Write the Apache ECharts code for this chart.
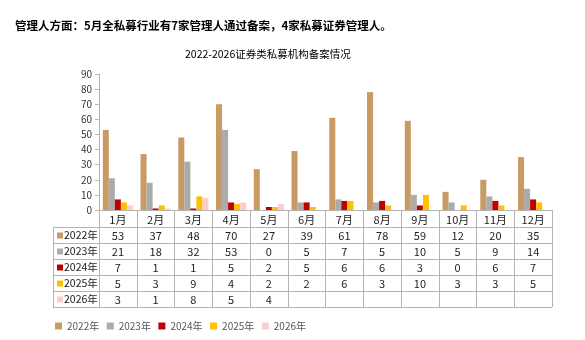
<!DOCTYPE html>
<html>
<head>
<meta charset="utf-8">
<script src="https://cdn.jsdelivr.net/npm/echarts@6/dist/echarts.min.js"></script>
<style>
html, body { margin: 0; padding: 0; background: #fff; }
#main { width: 585px; height: 340px; }
</style>
</head>
<body>
<div id="main"></div>
<script>
var months = ['1月', '2月', '3月', '4月', '5月', '6月', '7月', '8月', '9月', '10月', '11月', '12月'];
var yearNames = ['2022年', '2023年', '2024年', '2025年', '2026年'];
var v2022 = [53, 37, 48, 70, 27, 39, 61, 78, 59, 12, 20, 35];
var v2023 = [21, 18, 32, 53, 0, 5, 7, 5, 10, 5, 9, 14];
var v2024 = [7, 1, 1, 5, 2, 5, 6, 6, 3, 0, 6, 7];
var v2025 = [5, 3, 9, 4, 2, 2, 6, 3, 10, 3, 3, 5];
var v2026 = [3, 1, 8, 5, 4, null, null, null, null, null, null, null];
var yearValues = [v2022, v2023, v2024, v2025, v2026];
var yearColors = ['#C89B64', '#ABABAB', '#C00000', '#FFC000', '#FFCCCC'];

var FONT = '"Noto Sans CJK SC", sans-serif';
var LINE = '#b4b4b4';

// table geometry (px)
var gridL = 99, gridR = 552, axisY = 210;
var tableL = 53, rowTop = 227.5, rowH = 16;

var myChart = echarts.init(document.getElementById('main'));

var series = yearNames.map(function (name, i) {
    return {
        name: name,
        type: 'bar',
        data: yearValues[i],
        barGap: '0%',
        barCategoryGap: '20%',
        itemStyle: { color: yearColors[i] }
    };
});

var xAxes = [{
    type: 'category',
    data: months,
    position: 'bottom',
    axisLine: { lineStyle: { color: LINE } },
    axisTick: { show: true, interval: 0, length: 97, lineStyle: { color: LINE } },
    axisLabel: { interval: 0, margin: 4, fontSize: 11, color: '#222', fontFamily: FONT }
}];
yearValues.forEach(function (vals, k) {
    xAxes.push({
        type: 'category',
        position: 'bottom',
        offset: 16 + 16 * k,
        data: vals.map(function (v) { return v == null ? '' : String(v); }),
        axisLine: { show: false },
        axisTick: { show: false },
        axisLabel: { interval: 0, margin: 4, fontSize: 11, color: '#222', fontFamily: FONT }
    });
});

// table lines and row headers
var graphics = [];
for (var r = 0; r <= yearNames.length; r++) {
    graphics.push({
        type: 'line',
        shape: { x1: tableL, y1: rowTop + r * rowH, x2: gridR, y2: rowTop + r * rowH },
        style: { stroke: LINE, lineWidth: 1 }
    });
}
graphics.push({
    type: 'line',
    shape: { x1: tableL + 0.5, y1: rowTop, x2: tableL + 0.5, y2: rowTop + yearNames.length * rowH },
    style: { stroke: LINE, lineWidth: 1 }
});
yearNames.forEach(function (name, i) {
    var cy = rowTop + i * rowH + rowH / 2;
    graphics.push({
        type: 'rect',
        shape: { x: 57, y: cy - 3, width: 6, height: 6 },
        style: { fill: yearColors[i] }
    });
    graphics.push({
        type: 'text',
        x: 64, y: cy,
        style: { text: name, fill: '#222', font: '10.5px ' + FONT, verticalAlign: 'middle' }
    });
});

var option = {
    animation: false,
    title: [{
        left: 15, top: 20, padding: 0,
        text: '{b|管理人方面：}{n|5月全私募行业有7家管理人通过备案，}{b|4家私募证券管理人。}',
        textStyle: {
            rich: {
                b: { fontWeight: 'bold', fontSize: 11.5, fontFamily: FONT, color: '#000' },
                n: { fontSize: 11.5, fontFamily: FONT, color: '#000' }
            }
        }
    }, {
        left: 185, top: 49, padding: 0,
        text: '2022-2026证券类私募机构备案情况',
        textStyle: { fontSize: 10.5, fontWeight: 'normal', fontFamily: FONT, color: '#000' }
    }],
    legend: {
        left: 55, top: 321, padding: 0,
        icon: 'rect', itemWidth: 7, itemHeight: 7, itemGap: 7.5,
        textStyle: { fontSize: 10, color: '#595959', fontFamily: FONT },
        data: yearNames
    },
    grid: { left: gridL, right: 585 - gridR, top: 74, bottom: 340 - axisY, containLabel: false, outerBoundsMode: 'none' },
    xAxis: xAxes,
    yAxis: {
        type: 'value', min: 0, max: 90, interval: 10,
        axisLine: { show: true, lineStyle: { color: LINE } },
        axisTick: { show: true, length: 4, lineStyle: { color: LINE } },
        splitLine: { show: false },
        axisLabel: { margin: 7, fontSize: 10, color: '#333', fontFamily: FONT }
    },
    graphic: graphics,
    series: series
};

option && myChart.setOption(option);
</script>
</body>
</html>
